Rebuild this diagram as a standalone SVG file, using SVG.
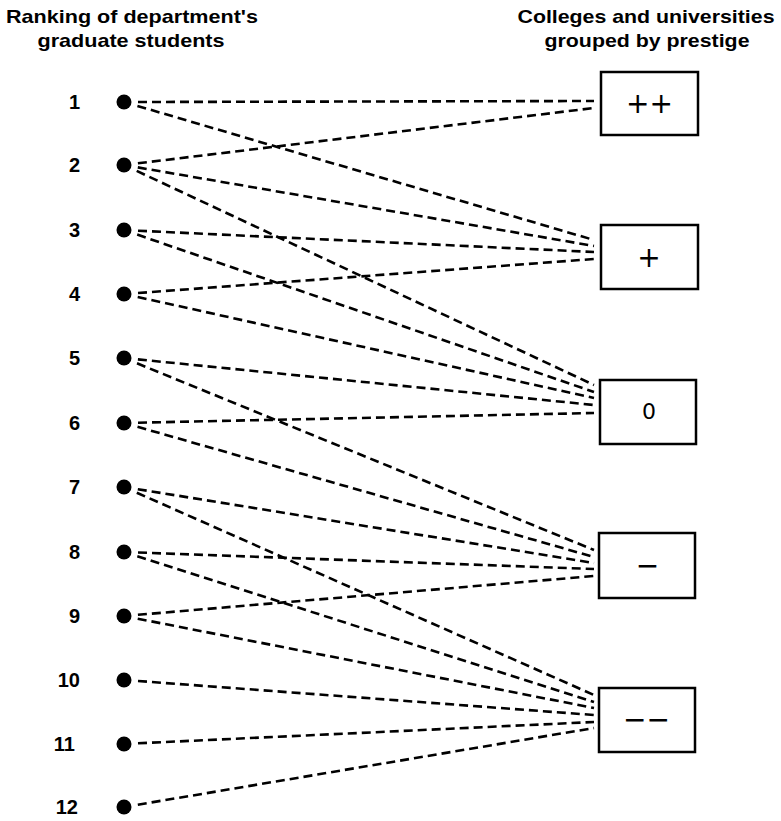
<svg xmlns="http://www.w3.org/2000/svg" width="781" height="821" viewBox="0 0 781 821">
<style>
.hdr{font-family:"Liberation Sans",Arial,sans-serif;font-weight:bold;font-size:19px;fill:#000;text-anchor:middle}
.num{font-family:"Liberation Sans",Arial,sans-serif;font-weight:bold;font-size:20px;fill:#000;text-anchor:end}
.box{fill:#fff;stroke:#000;stroke-width:2.5}
.lbl{font-family:"DejaVu Sans",sans-serif;font-size:28px;fill:#000;text-anchor:middle}
.dot{fill:#000}
#connectors line{stroke:#000;stroke-width:2.6;stroke-dasharray:9 5;fill:none}
</style>
<rect width="781" height="821" fill="#fff"/>
<g id="headers">
<text class="hdr" x="132" y="23" textLength="252" lengthAdjust="spacingAndGlyphs">Ranking of department's</text>
<text class="hdr" x="131" y="47" textLength="187" lengthAdjust="spacingAndGlyphs">graduate students</text>
<text class="hdr" x="646" y="23" textLength="257" lengthAdjust="spacingAndGlyphs">Colleges and universities</text>
<text class="hdr" x="647" y="47" textLength="205" lengthAdjust="spacingAndGlyphs">grouped by prestige</text>
</g>
<g id="connectors">
<line x1="138" y1="102" x2="594" y2="101"/>
<line x1="137.4" y1="105.9" x2="594" y2="240"/>
<line x1="137.9" y1="163.3" x2="594" y2="108"/>
<line x1="137.8" y1="167.4" x2="594" y2="246"/>
<line x1="136.7" y1="170.9" x2="594" y2="385"/>
<line x1="138" y1="230.7" x2="594" y2="252"/>
<line x1="137.2" y1="234.6" x2="594" y2="392"/>
<line x1="138" y1="293" x2="594" y2="259"/>
<line x1="137.7" y1="297" x2="594" y2="398"/>
<line x1="137.9" y1="359.4" x2="594" y2="405"/>
<line x1="137" y1="363.3" x2="594" y2="550"/>
<line x1="138" y1="422.7" x2="594" y2="413"/>
<line x1="137.5" y1="426.8" x2="594" y2="557"/>
<line x1="137.8" y1="489.2" x2="594" y2="563"/>
<line x1="136.8" y1="492.7" x2="594" y2="695"/>
<line x1="138" y1="552.5" x2="594" y2="569"/>
<line x1="137.3" y1="556.3" x2="594" y2="702"/>
<line x1="137.9" y1="614.8" x2="594" y2="576"/>
<line x1="137.7" y1="618.7" x2="594" y2="708"/>
<line x1="138" y1="681" x2="594" y2="715"/>
<line x1="138" y1="743.3" x2="594" y2="722"/>
<line x1="137.8" y1="804.7" x2="594" y2="728"/>
</g>
<g id="student-1"><text class="num" x="80" y="109">1</text><circle class="dot" cx="124" cy="102" r="7.5"/></g>
<g id="student-2"><text class="num" x="80" y="172">2</text><circle class="dot" cx="124" cy="165" r="7.5"/></g>
<g id="student-3"><text class="num" x="80" y="237">3</text><circle class="dot" cx="124" cy="230" r="7.5"/></g>
<g id="student-4"><text class="num" x="80" y="301">4</text><circle class="dot" cx="124" cy="294" r="7.5"/></g>
<g id="student-5"><text class="num" x="80" y="365">5</text><circle class="dot" cx="124" cy="358" r="7.5"/></g>
<g id="student-6"><text class="num" x="80" y="430">6</text><circle class="dot" cx="124" cy="423" r="7.5"/></g>
<g id="student-7"><text class="num" x="80" y="494">7</text><circle class="dot" cx="124" cy="487" r="7.5"/></g>
<g id="student-8"><text class="num" x="80" y="559">8</text><circle class="dot" cx="124" cy="552" r="7.5"/></g>
<g id="student-9"><text class="num" x="80" y="623">9</text><circle class="dot" cx="124" cy="616" r="7.5"/></g>
<g id="student-10"><text class="num" x="80" y="687">10</text><circle class="dot" cx="124" cy="680" r="7.5"/></g>
<g id="student-11"><text class="num" x="75" y="751">11</text><circle class="dot" cx="124" cy="744" r="7.5"/></g>
<g id="student-12"><text class="num" x="78" y="814">12</text><circle class="dot" cx="124" cy="807" r="7.5"/></g>
<g id="group-pp"><rect class="box" x="601" y="72" width="97" height="63"/><text class="lbl" x="649.5" y="113">++</text></g>
<g id="group-p"><rect class="box" x="601" y="225" width="97" height="64"/><text class="lbl" x="649" y="267">+</text></g>
<g id="group-0"><rect class="box" x="600" y="380" width="96" height="64"/><text class="lbl" x="649" y="419" style="font-size:22px">0</text></g>
<g id="group-m"><rect class="box" x="599" y="533" width="96" height="65"/><text class="lbl" x="647.5" y="575">−</text></g>
<g id="group-mm"><rect class="box" x="599" y="688" width="96" height="64"/><text class="lbl" x="646.5" y="729">−−</text></g>
</svg>
